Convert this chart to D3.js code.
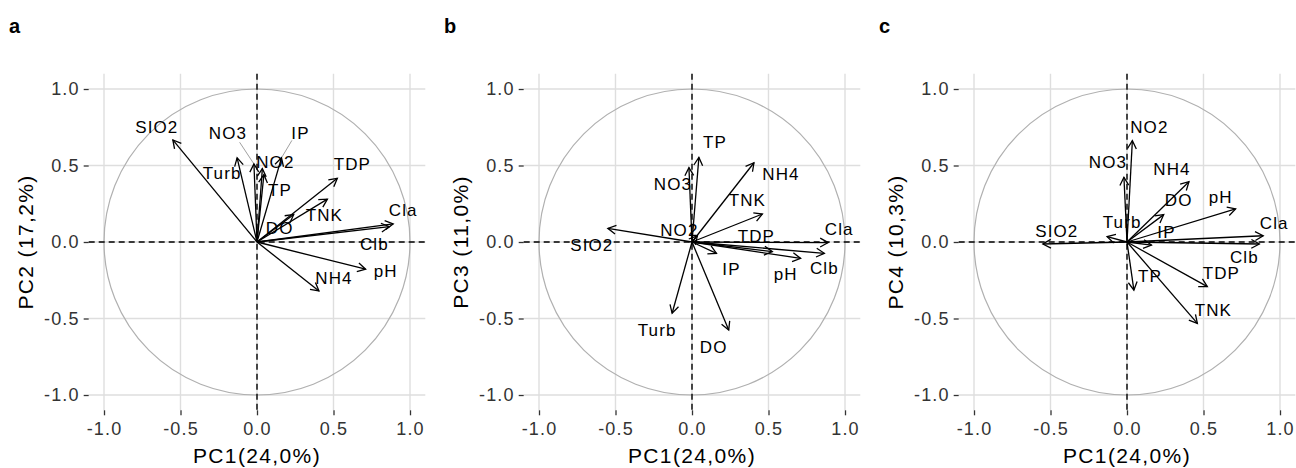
<!DOCTYPE html>
<html>
<head>
<meta charset="utf-8">
<script src="https://cdn.jsdelivr.net/npm/d3@7"></script>
<style>
  html, body { margin: 0; padding: 0; background: #fff; }
  svg { display: block; font-family: "Liberation Sans", Arial, sans-serif; }
  .tick text { letter-spacing: 0.065em; }
</style>
</head>
<body>
<svg id="chart" width="1296" height="468"></svg>
<script>
// Variable loadings on the first four principal components
const variables = ["SIO2", "Turb", "NO3", "NO2", "TP", "IP", "DO", "NH4", "TNK", "TDP", "pH", "Clb", "Cla"];
const pc1 = [-0.55, -0.13, -0.02, 0.035, 0.045, 0.16, 0.24, 0.405, 0.46, 0.525, 0.71, 0.865, 0.89];
const pc2 = [0.667, 0.55, 0.51, 0.48, 0.44, 0.55, 0.18, -0.32, 0.28, 0.416, -0.178, 0.10, 0.118];
const pc3 = [0.089, -0.466, 0.486, 0.04, 0.553, -0.074, -0.575, 0.518, 0.183, -0.063, -0.107, -0.074, -0.004];
const pc4 = [-0.013, 0.035, 0.423, 0.662, -0.314, -0.02, 0.179, 0.394, -0.532, -0.292, 0.216, -0.013, 0.041];

const panelTags = ["a", "b", "c"];
const xTitle = "PC1(24,0%)";
const yTitles = ["PC2 (17,2%)", "PC3 (11,0%)", "PC4 (10,3%)"];
const tickValues = [-1, -0.5, 0, 0.5, 1];
const tickLabels = ["-1.0", "-0.5", "0.0", "0.5", "1.0"];

// Label offsets (px from arrow tip) chosen to keep labels apart, per panel
const labelOffsets = [
  { SIO2: [-16, -13], Turb: [-15, 15], NO3: [-26, -31], NO2: [13, -7], TP: [16, 15], IP: [19, -25],
    DO: [-14, 14], NH4: [15, -13], TNK: [-3, 16], TDP: [15, -14], pH: [20, 2], Clb: [-15, 17], Cla: [10, -14] },
  { SIO2: [-16, 17], Turb: [-15, 17], NO3: [-16, 16], NO2: [-18, -6], TP: [16, -15], IP: [15, 16],
    DO: [-15, 17], NH4: [27, 11], TNK: [-15, -14], TDP: [-16, -16], pH: [-15, 16], Clb: [0, 15], Cla: [11, -14] },
  { SIO2: [14, -13], Turb: [15, -15], NO3: [-16, -15], NO2: [17, -14], TP: [16, -14], IP: [15, -13],
    DO: [15, -15], NH4: [-17, -13], TNK: [16, -13], TDP: [14, -14], pH: [-15, -12], Clb: [-15, 13], Cla: [11, -13] }
];
// Labels pushed far from their arrow get a thin connector
const connectors = [["NO3", "IP"], [], []];

const yLoadings = [pc2, pc3, pc4];

const svg = d3.select("#chart");
svg.append("rect").attr("width", 1296).attr("height", 468).attr("fill", "#fff");

// Open arrow head
svg.append("defs").append("marker")
  .attr("id", "head")
  .attr("markerUnits", "userSpaceOnUse")
  .attr("viewBox", "-10 -6 12 12")
  .attr("refX", 0).attr("refY", 0)
  .attr("markerWidth", 12).attr("markerHeight", 12)
  .attr("orient", "auto")
  .append("path")
  .attr("d", "M-8,-4.4L0,0L-8,4.4")
  .attr("fill", "none")
  .attr("stroke", "#000")
  .attr("stroke-width", 1.3);

const domain = [-1.1, 1.1];
const panelSize = 336.6;
const panelTop = 73.7;

panelTags.forEach((tag, p) => {
  const left = 88.7 + 435 * p;
  const x = d3.scaleLinear().domain(domain).range([left, left + panelSize]);
  const y = d3.scaleLinear().domain(domain).range([panelTop + panelSize, panelTop]);
  const g = svg.append("g");

  // Grid
  g.selectAll(".vgrid").data(tickValues).join("line")
    .attr("x1", d => x(d)).attr("x2", d => x(d))
    .attr("y1", y(domain[1])).attr("y2", y(domain[0]))
    .attr("stroke", "#dedede").attr("stroke-width", 1.4);
  g.selectAll(".hgrid").data(tickValues).join("line")
    .attr("y1", d => y(d)).attr("y2", d => y(d))
    .attr("x1", x(domain[0])).attr("x2", x(domain[1]))
    .attr("stroke", "#dedede").attr("stroke-width", 1.4);

  // Axes
  const xAxis = g.append("g")
    .attr("transform", `translate(0,${y(domain[0])})`)
    .call(d3.axisBottom(x).tickValues(tickValues).tickFormat((d, i) => tickLabels[i]).tickSize(5).tickPadding(7));
  const yAxis = g.append("g")
    .attr("transform", `translate(${x(domain[0])},0)`)
    .call(d3.axisLeft(y).tickValues(tickValues).tickFormat((d, i) => tickLabels[i]).tickSize(5).tickPadding(4));
  [xAxis, yAxis].forEach(a => {
    a.select(".domain").remove();
    a.selectAll(".tick line").attr("stroke", "#333").attr("stroke-width", 1.3);
    a.selectAll(".tick text").attr("fill", "#333").style("font-size", "18px")
      .style("font-family", "'Liberation Sans', Arial, sans-serif");
  });

  // Unit circle
  g.append("circle")
    .attr("cx", x(0)).attr("cy", y(0))
    .attr("r", x(1) - x(0))
    .attr("fill", "none").attr("stroke", "#b0b0b0").attr("stroke-width", 1.2);

  // Zero reference lines
  g.append("line")
    .attr("x1", x(domain[0])).attr("x2", x(domain[1]))
    .attr("y1", y(0)).attr("y2", y(0))
    .attr("stroke", "#000").attr("stroke-width", 1.4).attr("stroke-dasharray", "6,4");
  g.append("line")
    .attr("y1", y(domain[1])).attr("y2", y(domain[0]))
    .attr("x1", x(0)).attr("x2", x(0))
    .attr("stroke", "#000").attr("stroke-width", 1.4).attr("stroke-dasharray", "6,4");

  const rows = variables.map((v, i) => ({ name: v, px: pc1[i], py: yLoadings[p][i] }));

  // Connectors for displaced labels
  const offs = labelOffsets[p];
  g.selectAll(".conn").data(rows.filter(d => connectors[p].includes(d.name))).join("line")
    .attr("x1", d => x(d.px) + offs[d.name][0] * 0.55)
    .attr("y1", d => y(d.py) + offs[d.name][1] * 0.7)
    .attr("x2", d => x(d.px))
    .attr("y2", d => y(d.py))
    .attr("stroke", "#888").attr("stroke-width", 0.8);

  // Loading arrows
  g.selectAll(".arrow").data(rows).join("line")
    .attr("x1", x(0)).attr("y1", y(0))
    .attr("x2", d => x(d.px)).attr("y2", d => y(d.py))
    .attr("stroke", "#000").attr("stroke-width", 1.3)
    .attr("marker-end", "url(#head)");

  // Variable labels
  g.selectAll(".lab").data(rows).join("text")
    .attr("x", d => x(d.px) + offs[d.name][0])
    .attr("y", d => y(d.py) + offs[d.name][1])
    .attr("dy", "0.35em")
    .attr("text-anchor", "middle")
    .style("font-size", "17px")
    .style("letter-spacing", "0.065em")
    .attr("fill", "#000")
    .text(d => d.name);

  // Axis titles
  g.append("text")
    .attr("x", x(0)).attr("y", 463)
    .attr("text-anchor", "middle")
    .style("font-size", "21px").style("letter-spacing", "0.065em")
    .text(xTitle);
  g.append("text")
    .attr("transform", `translate(${x(-1) - 71},${y(0)}) rotate(-90)`)
    .attr("text-anchor", "middle")
    .style("font-size", "21px").style("letter-spacing", "0.065em")
    .text(yTitles[p]);

  // Panel tag
  g.append("text")
    .attr("x", x(-1) - 95).attr("y", 33)
    .style("font-size", "20px").style("font-weight", "bold")
    .text(tag);
});
</script>
</body>
</html>
